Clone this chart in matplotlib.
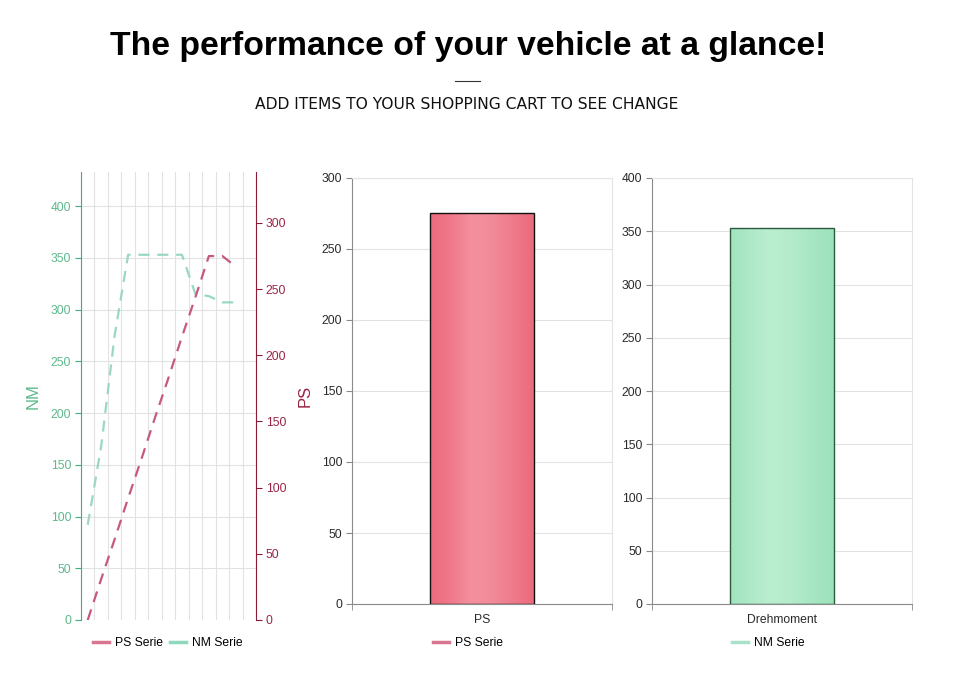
import numpy as np
import matplotlib.pyplot as plt
from matplotlib.colors import LinearSegmentedColormap
from matplotlib.lines import Line2D

plt.rcParams['font.family'] = ['Liberation Sans', 'DejaVu Sans']

# daten
slots = np.arange(13)
ps_curve = [0, 31, 61, 92, 122, 153, 183, 214, 244, 275, 275, 267, np.nan]
nm_curve = [92, 168, 275, 353, 353, 353, 353, 353, 315, 313, 307, 307, np.nan]
ps_bar_label = ['PS']
ps_bar_value = [275]
nm_bar_label = ['Drehmoment']
nm_bar_value = [353]

green_axis = '#3fae7c'
green_text = '#5cb98b'
red_axis = '#8a1c37'
red_text = '#9b2445'
red_line = '#c65a7c'
green_line = '#9ad8bf'
grid_c = '#e2e2e2'


def gradient_bar(ax, x, h, width, stops, edge):
    bars = ax.bar(x, h, width=width, facecolor='none', edgecolor=edge, linewidth=1.0, zorder=3)
    cmap = LinearSegmentedColormap.from_list('g', stops)
    grad = np.linspace(0, 1, 256).reshape(1, -1)
    for b in bars:
        x0, w, hh = b.get_x(), b.get_width(), b.get_height()
        im = ax.imshow(grad, cmap=cmap, aspect='auto', extent=[x0, x0 + w, 0, hh], zorder=2)
        im.set_clip_path(b)
    return bars


def style_bar_axes(ax, ymax, step):
    ax.set_xlim(-0.5, 0.5)
    ax.set_ylim(0, ymax)
    ax.set_yticks(np.arange(0, ymax + 1, step))
    ax.grid(axis='y', color=grid_c, linewidth=0.8, zorder=0)
    ax.set_axisbelow(True)
    for s in ['top', 'right']:
        ax.spines[s].set_color('#e4e4e4')
    for s in ['left', 'bottom']:
        ax.spines[s].set_color('#8a8a8a')
    ax.tick_params(axis='y', labelsize=8.7, colors='#2a2a2a', length=4, color='#8a8a8a', pad=3)
    ax.tick_params(axis='x', which='major', length=0, labelsize=8.7, colors='#2a2a2a', pad=7)
    ax.set_xticks([-0.5, 0.5], minor=True)
    ax.tick_params(axis='x', which='minor', length=4, color='#8a8a8a')


fig = plt.figure(figsize=(9.71, 6.85), dpi=100)

fig.text(0.482, 0.932, 'The performance of your vehicle at a glance!', ha='center', va='center',
         fontsize=24.3, fontweight='bold', color='#000000')
fig.add_artist(Line2D([455 / 971, 480 / 971], [1 - 81 / 685, 1 - 81 / 685], color='#333333', linewidth=0.8))
fig.text(0.481, 0.847, 'ADD ITEMS TO YOUR SHOPPING CART TO SEE CHANGE', ha='center', va='center',
         fontsize=11.2, color='#111111', family='DejaVu Sans')

# linkes Diagramm: Kurven
ax1 = fig.add_axes([81 / 971, 1 - 620 / 685, 175 / 971, 448 / 685])
ax2 = ax1.twinx()
ax1.set_xlim(-0.5, 12.5)
ax1.set_ylim(0, 433)
ax2.set_ylim(0, 338.5)
ax1.set_xticks(np.arange(-0.5, 13, 1))
ax1.set_xticklabels([])
ax1.tick_params(axis='x', length=0)
ax1.set_yticks(np.arange(0, 401, 50))
ax2.set_yticks(np.arange(0, 301, 50))
ax1.grid(True, color=grid_c, linewidth=0.8)
ax1.set_axisbelow(True)
ax2.grid(False)
for s in ['top', 'bottom']:
    ax1.spines[s].set_visible(False)
    ax2.spines[s].set_visible(False)
ax1.spines['right'].set_visible(False)
ax2.spines['left'].set_visible(False)
ax1.spines['left'].set_color(green_axis)
ax2.spines['right'].set_color(red_axis)
ax1.tick_params(axis='y', colors=green_text, labelsize=8.7, length=4, color=green_axis, pad=3)
ax2.tick_params(axis='y', colors=red_text, labelsize=8.7, length=4, color=red_axis, pad=3)
ax1.set_ylabel('NM', color=green_text, fontsize=12, labelpad=7)
ax2.set_ylabel('PS', color=red_text, fontsize=12, labelpad=8)

ax2.plot(slots, ps_curve, color=red_line, linewidth=1.6, linestyle=(0, (5, 3.5)))
ax1.plot(slots, nm_curve, color=green_line, linewidth=1.6, linestyle=(0, (5, 3.5)))

leg_handles = [Line2D([], [], color='#d9758f', linewidth=2.5), Line2D([], [], color='#8fd8bb', linewidth=2.5)]
fig.legend(leg_handles, ['PS Serie', 'NM Serie'], loc='center', bbox_to_anchor=(168 / 971, 1 - 643 / 685),
           ncol=2, frameon=False, fontsize=8.7, handlelength=1.3, handletextpad=0.5, columnspacing=0.6)

# mittleres Diagramm: PS
ax3 = fig.add_axes([352 / 971, 1 - 604 / 685, 260 / 971, 426 / 685])
style_bar_axes(ax3, 300, 50)
gradient_bar(ax3, [0], ps_bar_value, 0.4,
             ['#ec6a7e', '#f0788a', '#f4909e', '#f28b99', '#ef7a8b', '#ec6a7d'], '#111111')
ax3.set_xticks([0])
ax3.set_xticklabels(ps_bar_label)
fig.legend([Line2D([], [], color='#d9758f', linewidth=2.5)], ['PS Serie'], loc='center',
           bbox_to_anchor=(468 / 971, 1 - 643 / 685), frameon=False, fontsize=8.7,
           handlelength=1.3, handletextpad=0.5)

# rechtes Diagramm: Drehmoment
ax4 = fig.add_axes([652 / 971, 1 - 604 / 685, 260 / 971, 426 / 685])
style_bar_axes(ax4, 400, 50)
gradient_bar(ax4, [0], nm_bar_value, 0.4,
             ['#a2e4bf', '#aee9c8', '#bbeed0', '#b3ebcb', '#a7e6c3', '#9de2bb'], '#2c5a40')
ax4.set_xticks([0])
ax4.set_xticklabels(nm_bar_label)
fig.legend([Line2D([], [], color='#a9e2c9', linewidth=2.5)], ['NM Serie'], loc='center',
           bbox_to_anchor=(768 / 971, 1 - 643 / 685), frameon=False, fontsize=8.7,
           handlelength=1.3, handletextpad=0.5)

fig.savefig('out.png', dpi=100)
